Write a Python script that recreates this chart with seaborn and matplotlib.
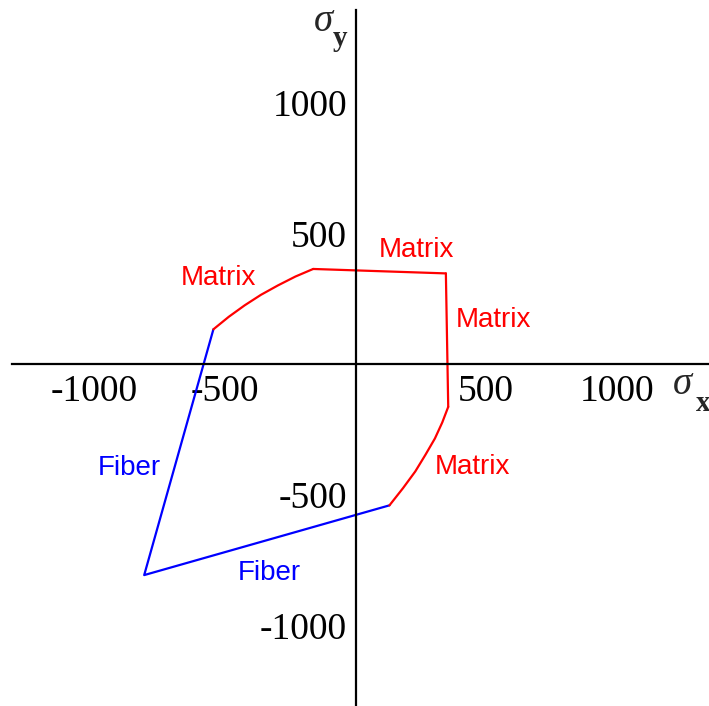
import matplotlib
matplotlib.use("Agg")
import matplotlib.pyplot as plt
import seaborn as sns
import pandas as pd

# Failure envelope segments (sigma_x, sigma_y)
fiber_x = [-544, -809, 130]
fiber_y = [134, -807, -540]

matrix_low_x = [130, 182, 229, 268, 304, 332, 355]
matrix_low_y = [-540, -474, -410, -346, -284, -223, -163]

matrix_right_x = [355, 346]
matrix_right_y = [-163, 348]

matrix_top_x = [346, -162]
matrix_top_y = [348, 365]

matrix_left_x = [-162, -230, -297, -362, -424, -485, -544]
matrix_left_y = [365, 336, 302, 266, 226, 182, 134]

tick_values = [-1000, -500, 500, 1000]
tick_labels = ["-1000", "-500", "500", "1000"]

# Region labels: (text, x, y, colour)
region_labels = [
    ("Matrix", -526, 304, "#ff0000"),
    ("Matrix", 232, 410, "#ff0000"),
    ("Matrix", 530, 143, "#ff0000"),
    ("Matrix", 446, -420, "#ff0000"),
    ("Fiber", -867, -424, "#0000ff"),
    ("Fiber", -331, -826, "#0000ff"),
]

sns.set_style("white")
W, H = 709, 706
fig = plt.figure(figsize=(W / 100, H / 100), dpi=100)
ax = fig.add_axes([0, 0, 1, 1])

scale = 0.2612  # pixels per unit
x0, y0 = 355.5, 364.3
ax.set_xlim(-x0 / scale, (W - x0) / scale)
ax.set_ylim(-(H - y0) / scale, y0 / scale)

segments = [
    (fiber_x, fiber_y, "#0000ff"),
    (matrix_low_x, matrix_low_y, "#ff0000"),
    (matrix_right_x, matrix_right_y, "#ff0000"),
    (matrix_top_x, matrix_top_y, "#ff0000"),
    (matrix_left_x, matrix_left_y, "#ff0000"),
]
for xs, ys, col in segments:
    df = pd.DataFrame({"sx": xs, "sy": ys})
    sns.lineplot(data=df, x="sx", y="sy", sort=False, estimator=None,
                 color=col, linewidth=1.6, ax=ax)

# Axes crossing at the origin
for side in ("top", "right"):
    ax.spines[side].set_visible(False)
ax.spines["left"].set_position(("data", 0))
ax.spines["bottom"].set_position(("data", 0))
ax.spines["left"].set_bounds((364.3 - 706) / scale, (364.3 - 10) / scale)
ax.spines["bottom"].set_bounds((12 - x0) / scale, (709 - x0) / scale)
for side in ("left", "bottom"):
    ax.spines[side].set_color("black")
    ax.spines[side].set_linewidth(1.6)

serif = ["Liberation Serif", "DejaVu Serif"]
ax.set_xticks(tick_values)
ax.set_xticklabels(tick_labels, family=serif, fontsize=27)
ax.set_yticks(tick_values)
ax.set_yticklabels(tick_labels, family=serif, fontsize=27)
ax.tick_params(axis="x", direction="in", length=5, width=1.2, pad=7, colors="black")
ax.tick_params(axis="y", direction="out", length=5, width=1.2, pad=1, colors="black")
ax.set_xlabel("")
ax.set_ylabel("")
ax.grid(False)

for text, tx, ty, col in region_labels:
    ax.text(tx, ty, text, color=col, fontsize=20, ha="center", va="baseline",
            family=["Liberation Sans", "DejaVu Sans"])

# Axis names
ax.text(682 / W, 1 - 394 / H, "σ", transform=ax.transAxes, fontsize=28,
        family=serif, style="italic", ha="center", va="baseline")
ax.text(703 / W, 1 - 411 / H, "x", transform=ax.transAxes, fontsize=21,
        family=serif, weight="bold", ha="center", va="baseline")
ax.text(323 / W, 1 - 31 / H, "σ", transform=ax.transAxes, fontsize=28,
        family=serif, style="italic", ha="center", va="baseline")
ax.text(340 / W, 1 - 46 / H, "y", transform=ax.transAxes, fontsize=21,
        family=serif, weight="bold", ha="center", va="baseline")

fig.savefig("out.png", dpi=100)
